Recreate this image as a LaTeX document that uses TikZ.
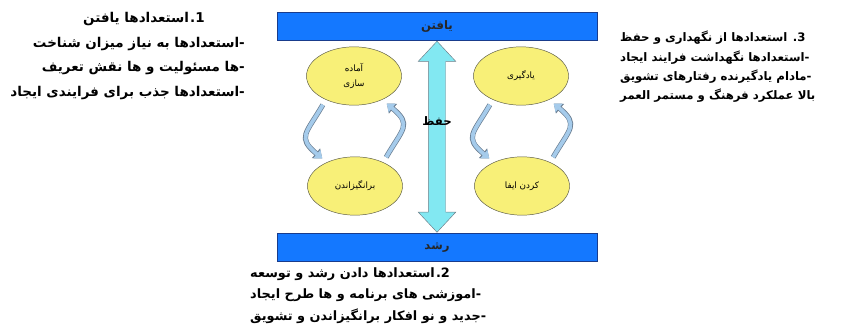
\documentclass[tikz,border=0pt]{standalone}
\usepackage{fontspec}
\newfontfamily\fa[Script=Arabic]{DejaVu Sans}
\TeXXeTstate=1
\usetikzlibrary{shapes.geometric,shapes.arrows,arrows.meta,calc}

\definecolor{barblue}{RGB}{20,120,255}
\definecolor{bardark}{RGB}{25,60,140}
\definecolor{ovalyellow}{RGB}{248,240,120}
\definecolor{ovalline}{RGB}{90,90,70}
\definecolor{keepcyan}{RGB}{130,232,242}
\definecolor{keepline}{RGB}{110,125,135}
\definecolor{cycblue}{RGB}{165,203,235}
\definecolor{cycline}{RGB}{105,125,145}

\tikzset{
  bar/.style={draw=bardark, fill=barblue, minimum width=9.6cm, minimum height=0.85cm, font=\fa\bfseries\fontsize{10}{12}\selectfont, text=black!85},
  stage/.style={ellipse, draw=ovalline, fill=ovalyellow, minimum width=2.85cm, minimum height=1.75cm, align=center, font=\fa\fontsize{7.5}{13}\selectfont},
  keep/.style={double arrow, rotate=90, draw=keepline, fill=keepcyan, minimum height=5.73cm, minimum width=1.11cm, double arrow head extend=0.3cm, double arrow tip angle=86, inner xsep=0pt, inner ysep=0.255cm},
  cyc/.style={draw=cycblue, line width=3.2pt, -{Triangle[length=6pt,width=9pt]}, shorten <=5pt, shorten >=5pt, preaction={draw=cycline, line width=4.4pt, -{Triangle[length=7pt,width=10.5pt]}}},
  txt/.style={font=\fa\bfseries\fontsize{11.5}{21}\selectfont, inner sep=0pt}
}

\begin{document}
\begin{tikzpicture}[x=0.03cm, y=0.03cm]
    \useasboundingbox (0,0) rectangle (841,-329);

        % bars at top and bottom
        \node[bar] (find) at (437,-26) {یافتن};
        \node[bar] (grow) at (437,-247.5) {رشد};

        % arrow between the bars
        \node[keep] (keep) at ($(find.south)!0.5!(grow.north)$) {};
        \node[font=\fa\bfseries\fontsize{10}{12}\selectfont] (keeplbl) at ($(keep.center)+(0,16)$) {حفظ};

        % the four stages
        \node[stage] (prep) at (354,-76) {آماده\\سازی};
        \node[stage] (learn) at (521,-76) {یادگیری};
        \node[stage] (motiv) at (355,-186) {برانگیزاندن};
        \node[stage] (perform) at (522,-186) {\beginR کردن ایفا\endR};

        % curved arrows between the stages
        \draw[cyc] (prep.220) to[out=240, in=140, looseness=1.6] (motiv.140);
        \draw[cyc] (motiv.40) to[out=60, in=-40, looseness=1.6] (prep.-40);
        \draw[cyc] (learn.220) to[out=240, in=140, looseness=1.6] (perform.140);
        \draw[cyc] (perform.40) to[out=60, in=-40, looseness=1.6] (learn.-40);

        % text blocks
        \node[txt, align=right, anchor=north east] (findtxt) at (245,-12)
            {\beginR 1\kern0pt.\kern1pt استعدادها یافتن\endR\hspace*{1.2cm}\\
             \beginR -\kern0pt استعدادها به نیاز میزان شناخت\endR\\
             \beginR -\kern0pt ها مسئولیت و ها نقش تعریف\endR\\
             \beginR -\kern0pt استعدادها جذب برای فرایندی ایجاد\endR};
        \node[txt, font=\fa\bfseries\fontsize{10}{16.5}\selectfont, align=left, anchor=north west] (keeptxt) at (620,-31)
            {\beginR 3\kern0pt. استعدادها از نگهداری و حفظ\endR\\
             \beginR -\kern0pt استعدادها نگهداشت فرایند ایجاد\endR\\
             \beginR -\kern0pt مادام یادگیرنده رفتارهای تشویق\endR\\
             \beginR بالا عملکرد فرهنگ و مستمر العمر\endR};
        \node[txt, font=\fa\bfseries\fontsize{11}{18.5}\selectfont, align=left, anchor=north west] (growtxt) at (250,-267)
            {\beginR 2\kern0pt.\kern1pt استعدادها دادن رشد و توسعه\endR\\
             \beginR -\kern0pt اموزشی های برنامه و ها طرح ایجاد\endR\\
             \beginR -\kern0pt جدید و نو افکار برانگیزاندن و تشویق\endR};

\end{tikzpicture}
\end{document}
